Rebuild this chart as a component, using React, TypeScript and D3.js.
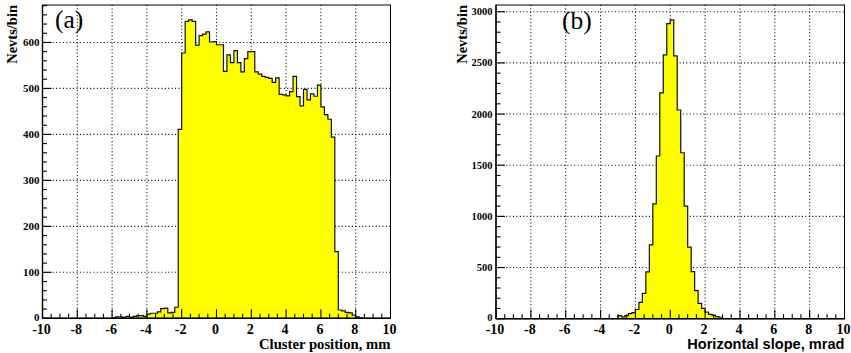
import React from "react";
import * as d3 from "d3";

const WIDTH = 851;
const HEIGHT = 353;

// Cluster position histogram: 0.2 mm bins starting at -6.0 mm
const clusterFirstEdge = -6.0;
const clusterBinWidth = 0.2;
const clusterCounts = [
  1, 3, 3, 2, 4, 2, 4, 6, 6, 4,
  9, 11, 11, 14, 21, 22, 12, 13, 24, 411,
  577, 646, 649, 646, 594, 615, 618, 623, 601, 602,
  595, 595, 537, 573, 556, 582, 556, 536, 565, 580,
  580, 536, 531, 526, 524, 522, 513, 523, 487, 486,
  484, 493, 526, 482, 462, 498, 475, 488, 483, 507,
  460, 443, 433, 394, 145, 18, 16, 13, 12, 7,
  3, 1,
];

// Horizontal slope histogram: 0.2 mrad bins starting at -3.0 mrad
const slopeFirstEdge = -3.0;
const slopeBinWidth = 0.2;
const slopeCounts = [
  30, 18, 30, 50, 60, 90, 160, 248, 458, 722,
  1123, 1590, 2207, 2578, 2884, 2920, 2568, 2040, 1622, 1100,
  699, 460, 275, 150, 100, 65, 42, 32, 20, 14,
];

const xTickValues = [-10, -8, -6, -4, -2, 0, 2, 4, 6, 8, 10];
const clusterYTicks = [0, 100, 200, 300, 400, 500, 600];
const slopeYTicks = [0, 500, 1000, 1500, 2000, 2500, 3000];

const SERIF = "Liberation Serif";
const SANS = "Liberation Sans";

type PanelProps = {
  left: number;
  right: number;
  top: number;
  bottom: number;
  counts: number[];
  firstEdge: number;
  binWidth: number;
  yTicks: number[];
  yMinorStep: number;
  yLabelSize: number;
  yLabelRight: number;
  tag: string;
  tagX: number;
  tagY: number;
  yTitleX: number;
  xTitle: string;
  xTitleFont: string;
  xTitleSize: number;
};

function Panel(p: PanelProps) {
  const x = d3.scaleLinear().domain([-10, 10]).range([p.left, p.right]);
  const yMax = (d3.max(p.counts) ?? 1) * 1.05;
  const y = d3.scaleLinear().domain([0, yMax]).range([p.bottom, p.top]);

  // step outline of the histogram
  const pts: [number, number][] = [[p.firstEdge, 0]];
  p.counts.forEach((c, i) => {
    const lo = p.firstEdge + i * p.binWidth;
    pts.push([lo, c]);
    pts.push([lo + p.binWidth, c]);
  });
  pts.push([p.firstEdge + p.counts.length * p.binWidth, 0]);
  const line = d3
    .line<[number, number]>()
    .x((d) => x(d[0]))
    .y((d) => y(d[1]));
  const path = line(pts) ?? "";

  const xMinor = d3.range(-10, 10.001, 0.5);
  const yMinor = d3.range(0, yMax, p.yMinorStep);
  const majLen = 9;
  const minLen = 4.5;

  return (
    <g>
      {/* grid */}
      {xTickValues
        .filter((v) => v > -10 && v < 10)
        .map((v) => (
          <line
            key={"gx" + v}
            x1={x(v)}
            x2={x(v)}
            y1={p.top}
            y2={p.bottom}
            stroke="#000"
            strokeWidth={1.1}
            strokeDasharray="1 2.4"
          />
        ))}
      {p.yTicks
        .filter((v) => v > 0)
        .map((v) => (
          <line
            key={"gy" + v}
            x1={p.left}
            x2={p.right}
            y1={y(v)}
            y2={y(v)}
            stroke="#000"
            strokeWidth={1.1}
            strokeDasharray="1 2.4"
          />
        ))}

      {/* histogram */}
      <path d={path} fill="#ffff00" stroke="#111" strokeWidth={1.2} strokeLinejoin="miter" />

      {/* frame */}
      <rect
        x={p.left}
        y={p.top}
        width={p.right - p.left}
        height={p.bottom - p.top}
        fill="none"
        stroke="#000"
        strokeWidth={1}
      />
      <line x1={p.left} x2={p.right} y1={p.bottom} y2={p.bottom} stroke="#000" strokeWidth={1.4} />
      <line x1={p.left} x2={p.left} y1={p.top} y2={p.bottom} stroke="#000" strokeWidth={1.4} />

      {/* x ticks */}
      {xMinor.map((v) => {
        const major = Math.abs(v - Math.round(v / 2) * 2) < 1e-6;
        return (
          <line
            key={"tx" + v}
            x1={x(v)}
            x2={x(v)}
            y1={p.bottom}
            y2={p.bottom - (major ? majLen : minLen)}
            stroke="#000"
            strokeWidth={1.1}
          />
        );
      })}
      {/* y ticks */}
      {yMinor.map((v) => {
        const major = p.yTicks.some((t) => Math.abs(t - v) < 1e-6);
        return (
          <line
            key={"ty" + v}
            x1={p.left}
            x2={p.left + (major ? majLen : minLen)}
            y1={y(v)}
            y2={y(v)}
            stroke="#000"
            strokeWidth={1.1}
          />
        );
      })}

      {/* x labels */}
      {xTickValues.map((v) => (
        <text
          key={"lx" + v}
          x={x(v) - 1}
          y={333.5}
          textAnchor="middle"
          style={{ fontFamily: SERIF, fontWeight: 700, fontSize: 14 }}
        >
          {v}
        </text>
      ))}
      {/* y labels */}
      {p.yTicks.map((v) => (
        <text
          key={"ly" + v}
          x={p.yLabelRight}
          y={y(v) + p.yLabelSize * 0.33 - (v === 0 ? 1 : 0)}
          textAnchor="end"
          style={{ fontFamily: SERIF, fontWeight: 700, fontSize: p.yLabelSize }}
        >
          {v}
        </text>
      ))}

      {/* titles */}
      <text
        x={p.right}
        y={349}
        textAnchor="end"
        style={{ fontFamily: p.xTitleFont, fontWeight: 700, fontSize: p.xTitleSize }}
      >
        {p.xTitle}
      </text>
      <text
        transform={`translate(${p.yTitleX},5) rotate(-90)`}
        textAnchor="end"
        style={{ fontFamily: SERIF, fontWeight: 700, fontSize: 14.5 }}
      >
        Nevts/bin
      </text>
      <text x={p.tagX} y={p.tagY} style={{ fontFamily: SERIF, fontWeight: 400, fontSize: 25.5 }}>
        {p.tag}
      </text>
    </g>
  );
}

export default function App() {
  return (
    <div style={{ position: "absolute", left: 0, top: 0 }}>
      <svg width={WIDTH} height={HEIGHT} style={{ display: "block", background: "#fff" }}>
        <Panel
          left={42.5}
          right={390.5}
          top={5}
          bottom={318.3}
          counts={clusterCounts}
          firstEdge={clusterFirstEdge}
          binWidth={clusterBinWidth}
          yTicks={clusterYTicks}
          yMinorStep={20}
          yLabelSize={11}
          yLabelRight={39.5}
          tag="(a)"
          tagX={55}
          tagY={27.5}
          yTitleX={17}
          xTitle="Cluster position, mm"
          xTitleFont={SERIF}
          xTitleSize={14.7}
        />
        <Panel
          left={496}
          right={844.5}
          top={5}
          bottom={318.7}
          counts={slopeCounts}
          firstEdge={slopeFirstEdge}
          binWidth={slopeBinWidth}
          yTicks={slopeYTicks}
          yMinorStep={100}
          yLabelSize={10.5}
          yLabelRight={492.5}
          tag="(b)"
          tagX={562}
          tagY={29}
          yTitleX={466.5}
          xTitle="Horizontal slope, mrad"
          xTitleFont={SANS}
          xTitleSize={14.6}
        />
      </svg>
    </div>
  );
}
